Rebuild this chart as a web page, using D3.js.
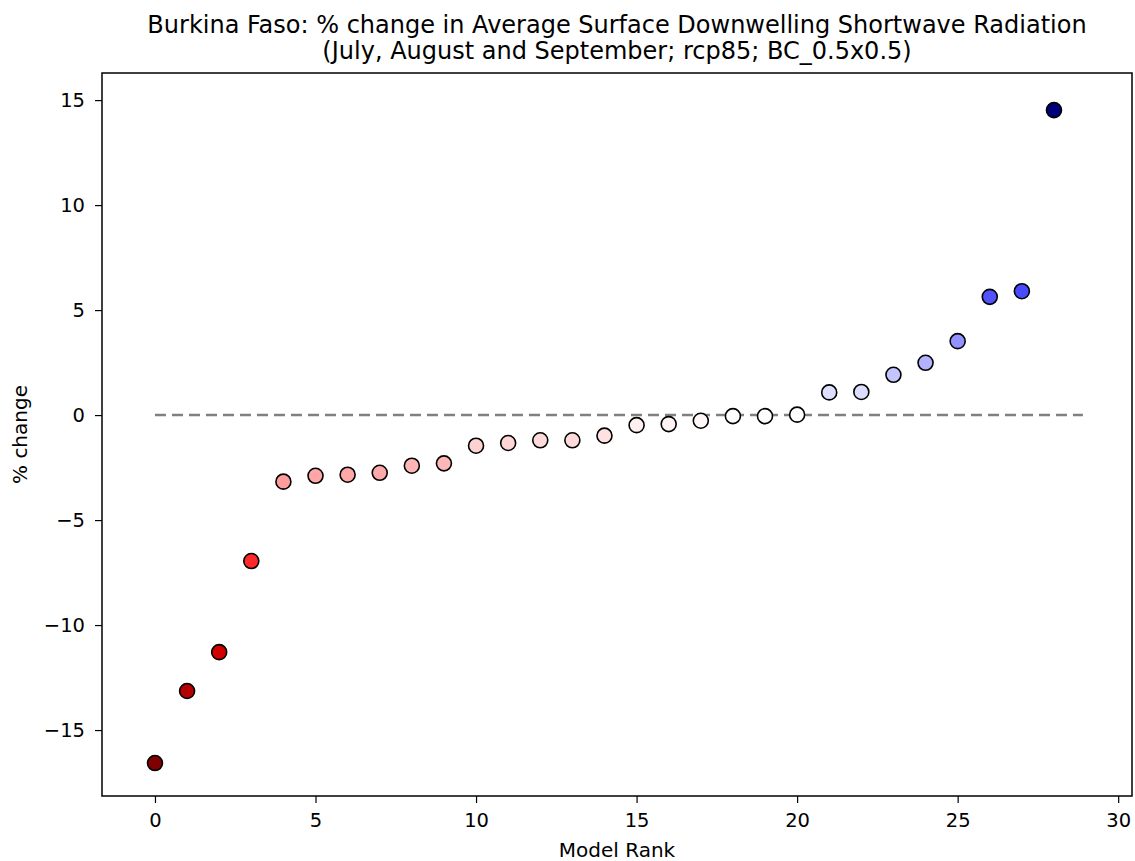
<!DOCTYPE html>
<html><head><meta charset="utf-8">
<script src="https://cdn.jsdelivr.net/npm/d3@7"></script>
<style>body{margin:0;background:#fff}svg text{font-family:"DejaVu Sans",sans-serif}</style>
</head><body><svg id="c" width="1135" height="861"></svg>
<script>
const ranks = d3.range(29);
const values = [-16.57,-13.14,-11.29,-6.95,-3.17,-2.89,-2.84,-2.75,-2.41,-2.30,-1.46,-1.33,-1.20,-1.20,-0.98,-0.48,-0.43,-0.27,-0.05,-0.05,0.02,1.08,1.10,1.92,2.49,3.52,5.63,5.90,14.52];
const xTicks = [0,5,10,15,20,25,30];
const yTicks = [-15,-10,-5,0,5,10,15];
const titleLines = ["Burkina Faso: % change in Average Surface Downwelling Shortwave Radiation","(July, August and September; rcp85; BC_0.5x0.5)"];

const svg = d3.select("#c");
const L=102,R=1132,T=73,B=796;
const x = d3.scaleLinear().domain([-1.65,30.43]).range([L,R]);
const y = d3.scaleLinear().domain([-18.14,16.29]).range([B,T]);
const M = d3.max(values, v=>Math.abs(v));
const color = d3.scaleLinear().domain([-M,-M/2,0,M/2,M])
  .range(["#7f0000","#ff0000","#ffffff","#0000ff","#00004c"]);

svg.append("line").attr("x1",x(0)).attr("x2",x(28.9)).attr("y1",y(0)).attr("y2",y(0))
  .attr("stroke","#808080").attr("stroke-width",2.5).attr("stroke-dasharray","11,6");

svg.selectAll("circle.pt").data(values).join("circle").attr("class","pt")
  .attr("cx",(d,i)=>x(ranks[i])).attr("cy",d=>y(d)).attr("r",7.5)
  .attr("fill",d=>color(d)).attr("stroke","#000").attr("stroke-width",1.6);

const fmt = d=> d<0 ? "\u2212"+Math.abs(d) : String(d);
const xa = svg.append("g").attr("transform",`translate(0,${B})`)
  .call(d3.axisBottom(x).tickValues(xTicks).tickFormat(fmt).tickSize(7).tickPadding(10));
const ya = svg.append("g").attr("transform",`translate(${L},0)`)
  .call(d3.axisLeft(y).tickValues(yTicks).tickFormat(fmt).tickSize(7).tickPadding(10));
[xa,ya].forEach(a=>{a.select(".domain").remove();a.selectAll("text").attr("font-size",19.5).attr("fill","#000");a.selectAll("line").attr("stroke","#000").attr("stroke-width",1.2);});

svg.append("rect").attr("x",L).attr("y",T).attr("width",R-L).attr("height",B-T)
  .attr("fill","none").attr("stroke","#000").attr("stroke-width",1.5);

svg.append("text").attr("x",(L+R)/2).attr("y",857).attr("text-anchor","middle").attr("font-size",20).text("Model Rank");
svg.append("text").attr("transform",`translate(27,${(T+B)/2}) rotate(-90)`).attr("text-anchor","middle").attr("font-size",20).text("% change");
titleLines.forEach((t,i)=>svg.append("text").attr("x",(L+R)/2).attr("y",33+i*26).attr("text-anchor","middle").attr("font-size",24).text(t));
</script></body></html>
